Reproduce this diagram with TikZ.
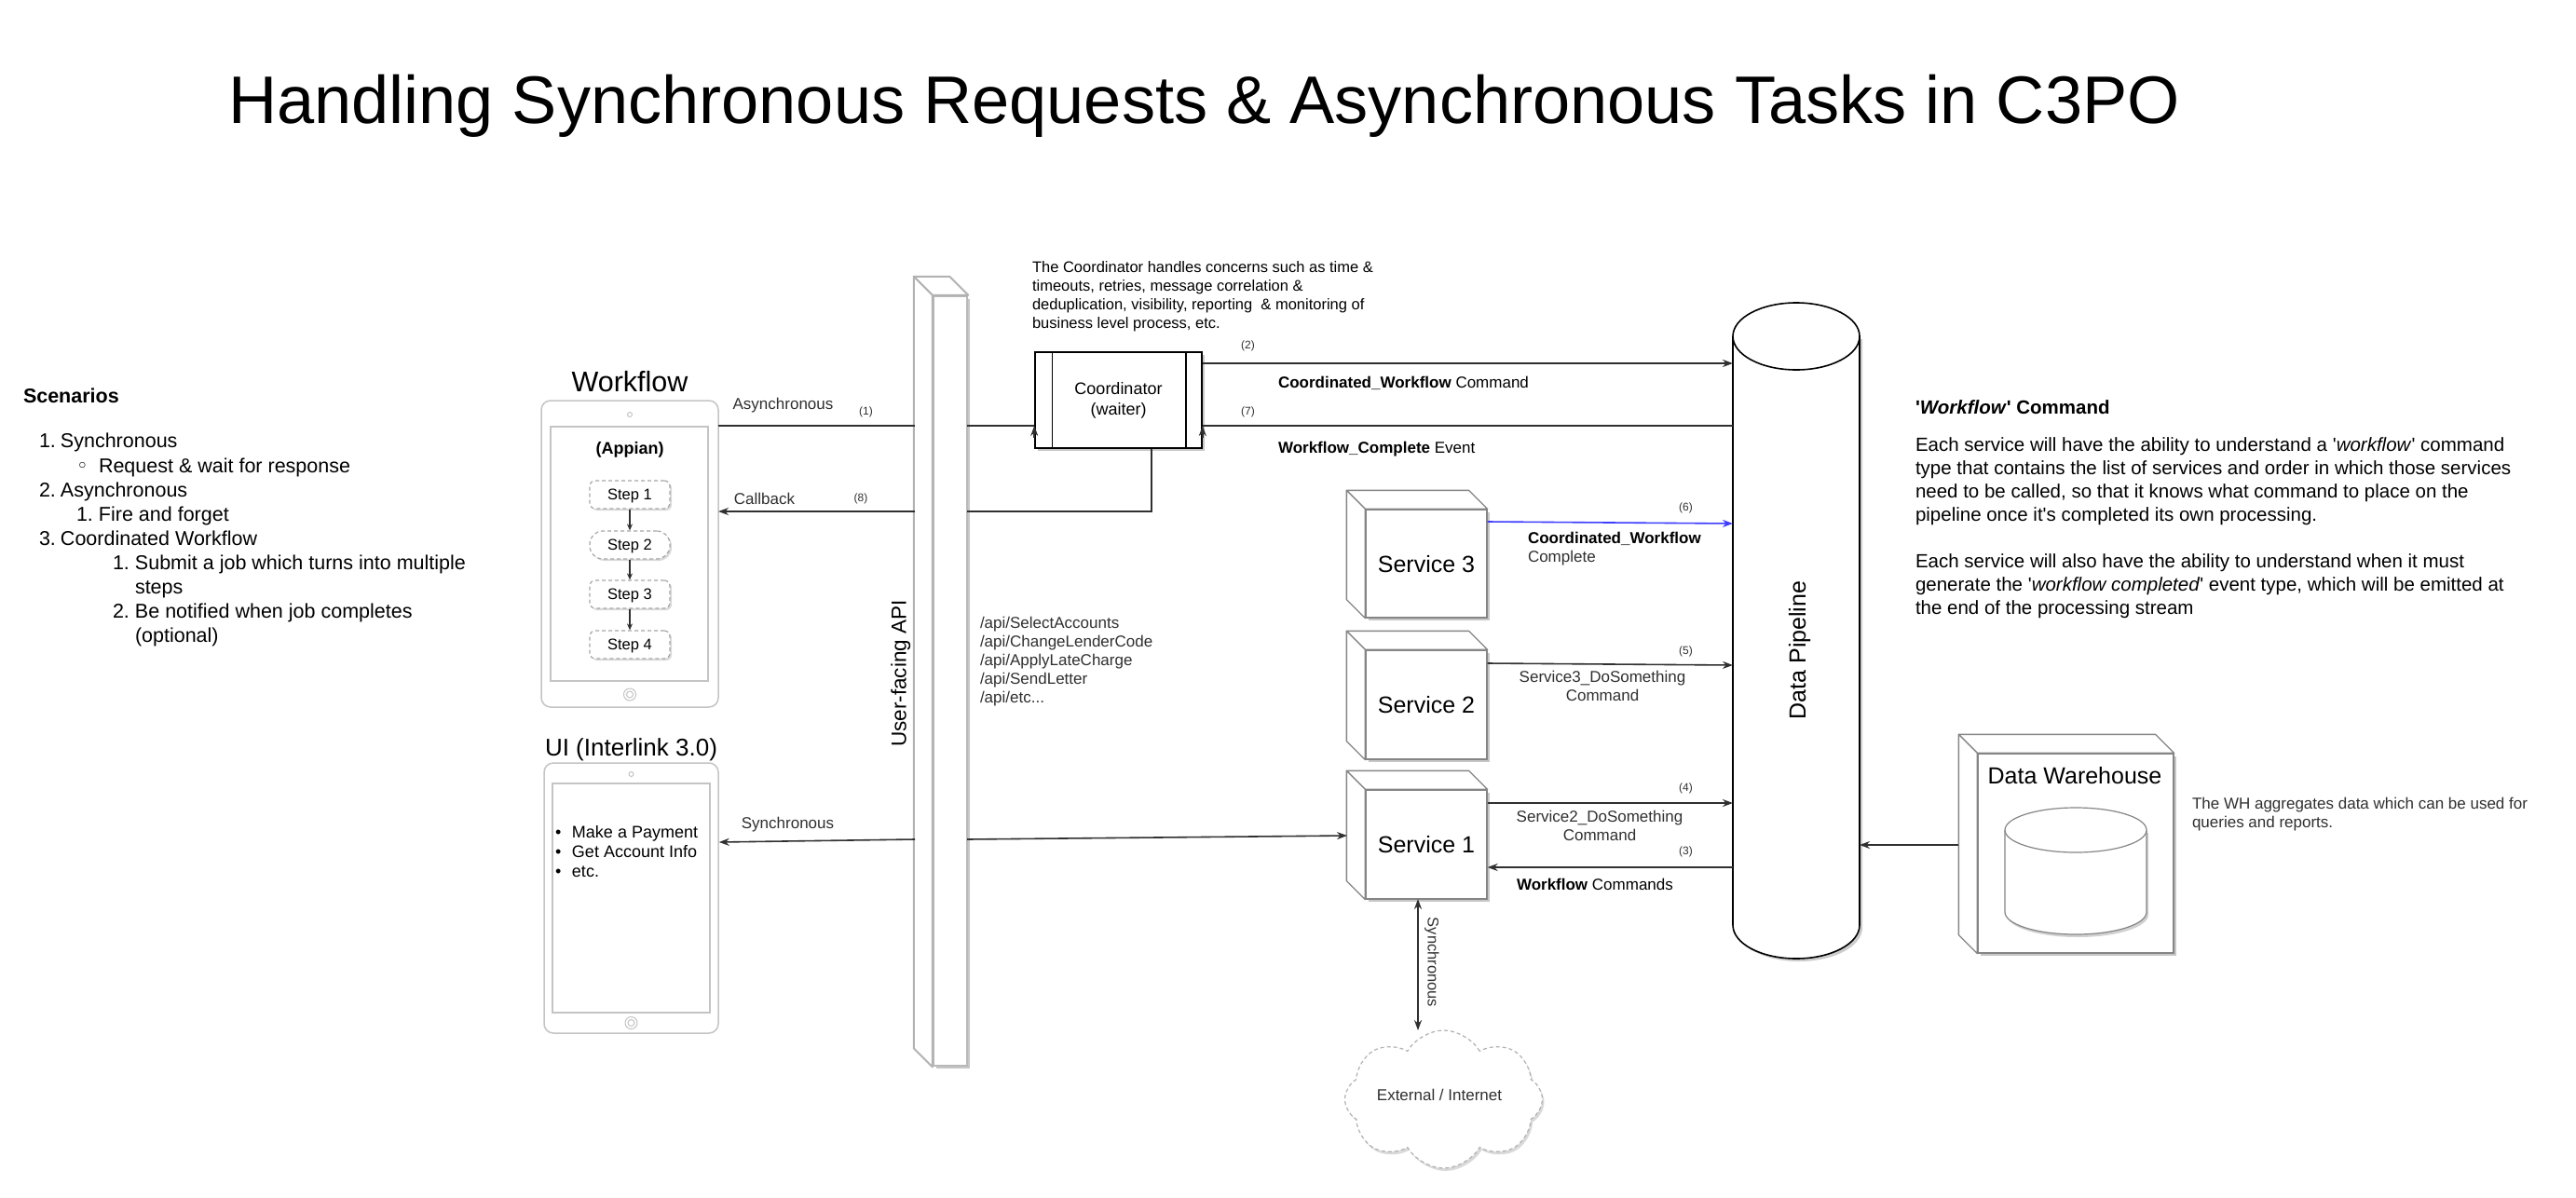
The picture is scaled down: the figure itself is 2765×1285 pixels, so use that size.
\documentclass[tikz,border=0pt]{standalone}
\usepackage{fontspec}
\setmainfont{Liberation Sans}[Ligatures=TeXOff]
\newfontfamily\dejavu{DejaVu Sans}
\usetikzlibrary{arrows.meta,shapes.symbols,shadows,calc}
\definecolor{lgray}{HTML}{C4C4C4}
\definecolor{mgray}{HTML}{858585}
\definecolor{dgray}{HTML}{303030}
\definecolor{blueln}{HTML}{3D3DFF}
\newcommand{\fsz}[2]{\fontsize{#1}{#2}\selectfont}
\newcommand{\cubeback}[3]{%
  \filldraw[#3] (#1.north west) -- ++(-#2,-#2) -- ($(#1.north east)+(-#2,-#2)$) -- (#1.north east) -- cycle;
  \filldraw[#3] (#1.north west) -- ++(-#2,-#2) -- ($(#1.south west)+(-#2,-#2)$) -- (#1.south west) -- cycle;
}
\begin{document}
\begin{tikzpicture}[x=1pt,y=-1pt,
  txt/.style={inner sep=0pt,outer sep=0pt,text=black},
  para/.style={txt,anchor=base west},
  lbl/.style={txt,font=\fsz{17}{20},text=dgray,anchor=base},
  lblw/.style={txt,font=\fsz{17}{20},text=dgray,anchor=base west},
  num/.style={txt,font=\fsz{12}{14},text=dgray,anchor=base},
  scen/.style={txt,font=\fsz{21.5}{26},anchor=base west},
  conn/.style={draw=dgray,line width=1.6pt},
  arrowtip/.style={-{Stealth[length=11pt,width=8pt]}},
  arr/.style={conn,arrowtip},
  shad/.style={drop shadow={shadow xshift=3pt,shadow yshift=-3pt,fill=black,opacity=0.22}},
  cubefront/.style={draw=mgray,line width=1.3pt,fill=white,inner sep=0pt,font=\fsz{25}{30},text height=18pt,text depth=0pt,shad},
  cubeside/.style={draw=mgray,line width=1.3pt,fill=white,line join=round},
  tablet/.style={draw=lgray,line width=1.5pt,fill=white,inner sep=0pt},
  stepbox/.style={draw=gray!70,dash pattern=on 4pt off 3pt,line width=1.2pt,fill=white,rounded corners=6pt,minimum width=86pt,minimum height=30pt,inner sep=0pt,font=\fsz{16.5}{19},text height=11.8pt,text depth=0pt,drop shadow={shadow xshift=2pt,shadow yshift=-2pt,fill=black,opacity=0.15}},
]
\useasboundingbox (0,0) rectangle (2765,1285);
\fill[white] (0,0) rectangle (2765,1285);

% ---------- title ----------
\node[txt,font=\fsz{72.2}{80},anchor=base west] (title) at (245,132) {Handling Synchronous Requests \& Asynchronous Tasks in C3PO};

% ---------- scenarios ----------
\node[scen,font=\bfseries\fsz{21.5}{26}] (scT) at (25,432) {Scenarios};
\node[scen] (sc1) at (42,480) {\makebox[23pt][l]{1.}Synchronous};
\node[scen] (sc2) at (82,507) {\makebox[24pt][l]{\dejavu ◦}Request \& wait for response};
\node[scen] (sc3) at (42,533) {\makebox[23pt][l]{2.}Asynchronous};
\node[scen] (sc4) at (82,559) {\makebox[24pt][l]{1.}Fire and forget};
\node[scen] (sc5) at (42,585) {\makebox[23pt][l]{3.}Coordinated Workflow};
\node[scen] (sc6) at (121,611) {\makebox[24pt][l]{1.}Submit a job which turns into multiple};
\node[scen] (sc7) at (145,637) {steps};
\node[scen] (sc8) at (121,663) {\makebox[24pt][l]{2.}Be notified when job completes};
\node[scen] (sc9) at (145,689) {(optional)};

% ---------- workflow tablet ----------
\node[txt,font=\fsz{30.5}{36},anchor=base] (wfT) at (676,420) {Workflow};
\node[tablet,rounded corners=10pt,minimum width=190pt,minimum height=329pt] (wf) at (676,594.5) {};
\node[tablet,minimum width=169pt,minimum height=273pt] (wfS) at (675.5,594.5) {};
\draw[lgray,line width=1pt] (676,445) circle[radius=2.5];
\draw[lgray,line width=1pt] (676,745.5) circle[radius=6.5] (676,745.5) circle[radius=3.5];
\node[txt,font=\bfseries\fsz{18}{22},anchor=base] (app) at (676,487) {(Appian)};
\node[stepbox] (st1) at (676,531) {Step 1};
\node[stepbox,rounded corners=14pt] (st2) at (676,585) {Step 2};
\node[stepbox] (st3) at (676,638) {Step 3};
\node[stepbox] (st4) at (676,692) {Step 4};
\draw[conn,-{Stealth[length=7pt,width=6pt]}] (st1) -- (st2);
\draw[conn,-{Stealth[length=7pt,width=6pt]}] (st2) -- (st3);
\draw[conn,-{Stealth[length=7pt,width=6pt]}] (st3) -- (st4);

% ---------- UI tablet ----------
\node[txt,font=\fsz{26}{31},anchor=base] (uiT) at (677.5,811) {UI (Interlink 3.0)};
\node[tablet,rounded corners=10pt,minimum width=187pt,minimum height=290pt] (ui) at (677.5,964) {};
\node[tablet,minimum width=169pt,minimum height=246pt] (uiS) at (677.5,964) {};
\draw[lgray,line width=1pt] (677.5,831) circle[radius=2.5];
\draw[lgray,line width=1pt] (677.5,1098) circle[radius=6.5] (677.5,1098) circle[radius=3.5];
\node[txt,font=\fsz{18}{21},anchor=base west] (ub1) at (596,899.5) {\makebox[18pt][l]{•}Make a Payment};
\node[txt,font=\fsz{18}{21},anchor=base west] (ub2) at (596,920.5) {\makebox[18pt][l]{•}Get Account Info};
\node[txt,font=\fsz{18}{21},anchor=base west] (ub3) at (596,941.5) {\makebox[18pt][l]{•}etc.};

% ---------- coordinator ----------
\node[para,font=\fsz{16.5}{20}] (cd1) at (1108,292) {The Coordinator handles concerns such as time \&};
\node[para,font=\fsz{16.5}{20}] (cd2) at (1108,312) {timeouts, retries, message correlation \&};
\node[para,font=\fsz{16.5}{20}] (cd3) at (1108,332) {deduplication, visibility, reporting\ \ \& monitoring of};
\node[para,font=\fsz{16.5}{20}] (cd4) at (1108,352) {business level process, etc.};
\node[draw=black,line width=1.6pt,fill=white,minimum width=179pt,minimum height=103pt,inner sep=0pt,align=center,font=\fsz{18}{22},shad] (coord) at (1200.5,429.5) {Coordinator\\(waiter)};
\draw[black,line width=1.4pt] ($(coord.north west)+(19,0)$) -- ($(coord.south west)+(19,0)$);
\draw[black,line width=1.4pt] ($(coord.north east)+(-18,0)$) -- ($(coord.south east)+(-18,0)$);

% ---------- data pipeline ----------
\node[txt,minimum width=136pt,minimum height=704pt] (pipe) at (1928,677) {};
\fill[black,opacity=0.2,shift={(3,3)}] (1860,361) -- (1860,993) .. controls (1860,1012.9) and (1890.4,1029) .. (1928,1029) .. controls (1965.6,1029) and (1996,1012.9) .. (1996,993) -- (1996,361) -- cycle;
\filldraw[fill=white,draw=black,line width=1.6pt] (1860,361) -- (1860,993) .. controls (1860,1012.9) and (1890.4,1029) .. (1928,1029) .. controls (1965.6,1029) and (1996,1012.9) .. (1996,993) -- (1996,361);
\filldraw[fill=white,draw=black,line width=1.6pt] (1928,361) ellipse[x radius=68,y radius=36];
\node[txt,font=\fsz{25}{30},rotate=90,text height=18pt,text depth=0pt] (pipeT) at (1929,698) {Data Pipeline};

% ---------- services ----------
\node[cubefront,minimum width=130pt,minimum height=116pt] (s3) at (1531,605) {Service 3};
\cubeback{s3}{20}{cubeside}
\node[cubefront,minimum width=130pt,minimum height=117pt] (s2) at (1531,756.5) {Service 2};
\cubeback{s2}{20}{cubeside}
\node[cubefront,minimum width=130pt,minimum height=117pt] (s1) at (1531,906.5) {Service 1};
\cubeback{s1}{20}{cubeside}

% ---------- API ----------
\node[cubefront,draw=gray!55,line width=2.5pt,minimum width=36pt,minimum height=826pt] (api) at (1020,731) {};
\cubeback{api}{20}{cubeside,draw=gray!60,line width=2pt}
\node[txt,font=\fsz{22.5}{27},rotate=90,text height=16pt,text depth=0pt] (apiT) at (964.6,723) {User-facing API};
\node[para,font=\fsz{17}{20},text=dgray] (r1) at (1052,674) {/api/SelectAccounts};
\node[para,font=\fsz{17}{20},text=dgray] (r2) at (1052,694) {/api/ChangeLenderCode};
\node[para,font=\fsz{17}{20},text=dgray] (r3) at (1052,714) {/api/ApplyLateCharge};
\node[para,font=\fsz{17}{20},text=dgray] (r4) at (1052,734) {/api/SendLetter};
\node[para,font=\fsz{17}{20},text=dgray] (r5) at (1052,754) {/api/etc...};

% ---------- data warehouse ----------
\node[cubefront,minimum width=210pt,minimum height=214pt] (dw) at (2228,916) {};
\cubeback{dw}{20}{cubeside}
\node[txt,font=\fsz{25}{30},anchor=base] (dwT) at (2227,841) {Data Warehouse};
\node[txt,minimum width=152pt,minimum height=136pt] (dwcyl) at (2228,935) {};
\fill[black,opacity=0.18,shift={(2,3)}] (2152,891) -- (2152,979) .. controls (2152,992.3) and (2186,1003) .. (2228,1003) .. controls (2270,1003) and (2304,992.3) .. (2304,979) -- (2304,891) -- cycle;
\filldraw[fill=white,draw=mgray,line width=1.2pt] (2152,891) -- (2152,979) .. controls (2152,992.3) and (2186,1003) .. (2228,1003) .. controls (2270,1003) and (2304,992.3) .. (2304,979) -- (2304,891);
\filldraw[fill=white,draw=mgray,line width=1.2pt] (2228,891) ellipse[x radius=76,y radius=24];
\node[para,font=\fsz{17}{20},text=dgray] (wh1) at (2353,868) {The WH aggregates data which can be used for};
\node[para,font=\fsz{17}{20},text=dgray] (wh2) at (2353,888) {queries and reports.};

% ---------- cloud ----------
\node[cloud,cloud puffs=8,cloud puff arc=120,aspect=1.45,draw=gray!60,dash pattern=on 4pt off 3pt,line width=1.2pt,fill=white,minimum width=212pt,minimum height=148pt,inner sep=0pt,drop shadow={shadow xshift=2pt,shadow yshift=-3pt,fill=black,opacity=0.15}] (cloud) at (1549.5,1180) {};
\node[txt,font=\fsz{17}{20},text=dgray,anchor=base] (cloudT) at (1545,1181) {External / Internet};

% ---------- workflow command text ----------
\node[para,font=\bfseries\fsz{20.5}{25}] (wcT) at (2056,444) {'\textit{Workflow}' Command};
\node[para,font=\fsz{20.5}{25}] (wc1) at (2056,484) {Each service will have the ability to understand a '\textit{workflow}' command};
\node[para,font=\fsz{20.5}{25}] (wc2) at (2056,509) {type that contains the list of services and order in which those services};
\node[para,font=\fsz{20.5}{25}] (wc3) at (2056,534) {need to be called, so that it knows what command to place on the};
\node[para,font=\fsz{20.5}{25}] (wc4) at (2056,559) {pipeline once it's completed its own processing.};
\node[para,font=\fsz{20.5}{25}] (wc5) at (2056,609) {Each service will also have the ability to understand when it must};
\node[para,font=\fsz{20.5}{25}] (wc6) at (2056,634) {generate the '\textit{workflow completed}' event type, which will be emitted at};
\node[para,font=\fsz{20.5}{25}] (wc7) at (2056,659) {the end of the processing stream};

% ---------- connectors ----------
\coordinate (wfA) at (771,457);
\coordinate (apiLA) at (982,457);
\coordinate (apiRA) at (1038,457);
\draw[conn] (wfA) -- (apiLA);
\draw[conn] (apiRA) -- (coord.west |- apiRA);
\draw[conn,arrowtip] ($(coord.west |- apiRA)+(0,13)$) -- (coord.west |- apiRA);

\coordinate (cbB) at (1236,549);
\draw[conn] (coord.south -| cbB) -- (cbB) -- (apiRA |- cbB);
\draw[arr] (apiLA |- cbB) -- (wfA |- cbB);

\draw[arr] (coord.east |- 0,390) -- (pipe.west |- 0,390);
\draw[conn] (pipe.west |- 0,457) -- (coord.east |- 0,457);
\draw[conn,arrowtip] ($(coord.east |- 0,457)+(0,13)$) -- (coord.east |- 0,457);

\coordinate (apiLS) at (982,901);
\coordinate (apiRS) at (1038,901);
\coordinate (s1W) at (1446,897);
\draw[arr] (apiLS) -- (ui.east |- 0,904);
\draw[arr] (apiRS) -- (s1W);

\draw[conn,draw=blueln,arrowtip] (s3.east |- 0,560) -- (pipe.west |- 0,562);
\draw[arr] (s2.east |- 0,712) -- (pipe.west |- 0,714);
\draw[arr] (s1.east |- 0,862) -- (pipe.west |- 0,862);
\draw[arr] (pipe.west |- 0,931) -- (s1.east |- 0,931);
\draw[arr] ($(dw.west |- 0,907)+(-20,0)$) -- (pipe.east |- 0,907);

\coordinate (s1b) at (1522,965);
\coordinate (clT) at (1522,1106);
\draw[conn,{Stealth[length=11pt,width=8pt]}-{Stealth[length=11pt,width=8pt]}] (s1b) -- (clT);

% ---------- labels ----------
\node[lbl] (lAsync) at (840.5,439) {Asynchronous};
\node[num] (n1) at (929.5,445) {(1)};
\node[lbl] (lCb) at (820.5,541) {Callback};
\node[num] (n8) at (924,538) {(8)};
\node[lbl] (lSync) at (845.5,889) {Synchronous};
\node[num] (n2) at (1339.5,374) {(2)};
\node[num] (n7) at (1339.5,445) {(7)};
\node[lblw,text=black] (lCWC) at (1372,416) {\textbf{Coordinated\_Workflow} Command};
\node[lblw,text=black] (lWCE) at (1372,486) {\textbf{Workflow\_Complete} Event};
\node[num] (n6) at (1809.5,548) {(6)};
\node[lblw,text=black] (lCW1) at (1640,583) {\textbf{Coordinated\_Workflow}};
\node[lblw] (lCW2) at (1640,603) {Complete};
\node[num] (n5) at (1809.5,702) {(5)};
\node[lbl] (lS3a) at (1720,732) {Service3\_DoSomething};
\node[lbl] (lS3b) at (1720,752) {Command};
\node[num] (n4) at (1809.5,849) {(4)};
\node[lbl] (lS2a) at (1717,882) {Service2\_DoSomething};
\node[lbl] (lS2b) at (1717,902) {Command};
\node[num] (n3) at (1809.5,917) {(3)};
\node[lblw,text=black] (lWC) at (1628,955) {\textbf{Workflow} Commands};
\node[txt,font=\fsz{16.5}{20},text=dgray,rotate=-90,text height=12pt,text depth=0pt] (lSyncV) at (1538.5,1033) {Synchronous};
\end{tikzpicture}
\end{document}
